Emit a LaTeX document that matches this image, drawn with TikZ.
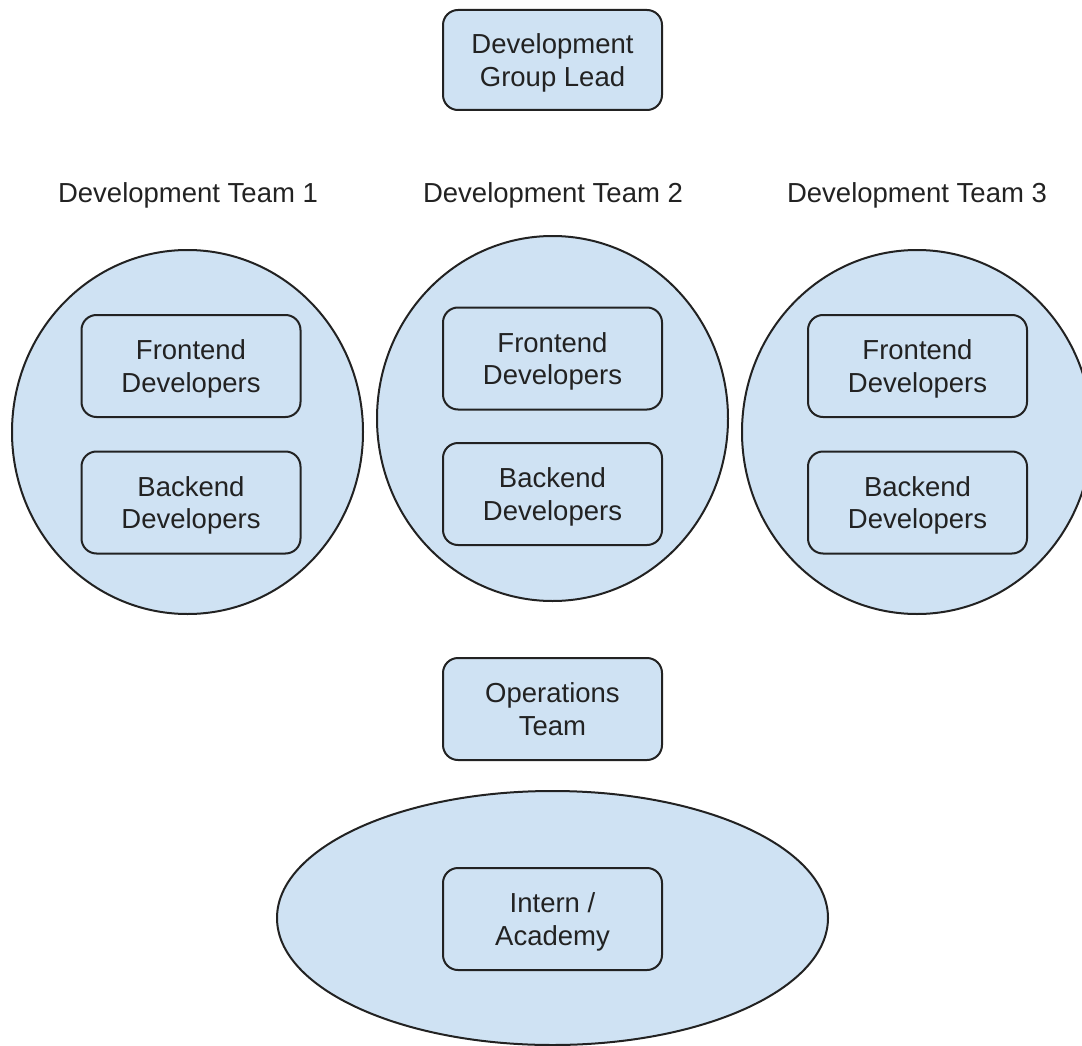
\documentclass[tikz,border=0pt]{standalone}
\usepackage{fontspec}
\setmainfont{Liberation Sans}
\usetikzlibrary{shapes.geometric}
\definecolor{fillblue}{HTML}{CFE2F3}
\definecolor{inkgray}{HTML}{222222}
\begin{document}
\begin{tikzpicture}[x=1pt,y=-1pt,
  every node/.style={font=\fontsize{27.5}{32.5}\selectfont, text=inkgray, align=center},
  rbox/.style={draw=inkgray, line width=2pt, fill=fillblue, rounded corners=15pt,
    minimum width=219pt, minimum height=102pt, inner sep=0pt, text depth=-3pt},
  teamoval/.style={draw=inkgray, line width=2pt, fill=fillblue, ellipse, inner sep=0pt},
  teamlabel/.style={inner sep=0pt, anchor=base}
]
\useasboundingbox (0,0) rectangle (1082,1046);

\node[rbox, minimum height=100pt] (lead) at (552.5,60) {Development\\Group Lead};

\node[teamlabel] (t1) at (188,202) {Development Team 1};
\node[teamlabel] (t2) at (553,202) {Development Team 2};
\node[teamlabel] (t3) at (917,202) {Development Team 3};

\node[teamoval, minimum width=351pt, minimum height=364pt] (c1) at (187.5,432) {};
\node[teamoval, minimum width=351pt, minimum height=365pt] (c2) at (552.5,418.5) {};
\node[teamoval, minimum width=350pt, minimum height=364pt] (c3) at (917,432) {};

\node[rbox] (f1) at (191,366) {Frontend\\Developers};
\node[rbox] (b1) at (191,502.5) {Backend\\Developers};
\node[rbox] (f2) at (552.5,358.5) {Frontend\\Developers};
\node[rbox] (b2) at (552.5,494) {Backend\\Developers};
\node[rbox] (f3) at (917.5,366) {Frontend\\Developers};
\node[rbox] (b3) at (917.5,502.5) {Backend\\Developers};

\node[rbox] (ops) at (552.5,709) {Operations\\Team};

\node[teamoval, minimum width=551pt, minimum height=254pt] (acad) at (552.5,918) {};
\node[rbox] (intern) at (552.5,919) {Intern /\\Academy};
\end{tikzpicture}
\end{document}
